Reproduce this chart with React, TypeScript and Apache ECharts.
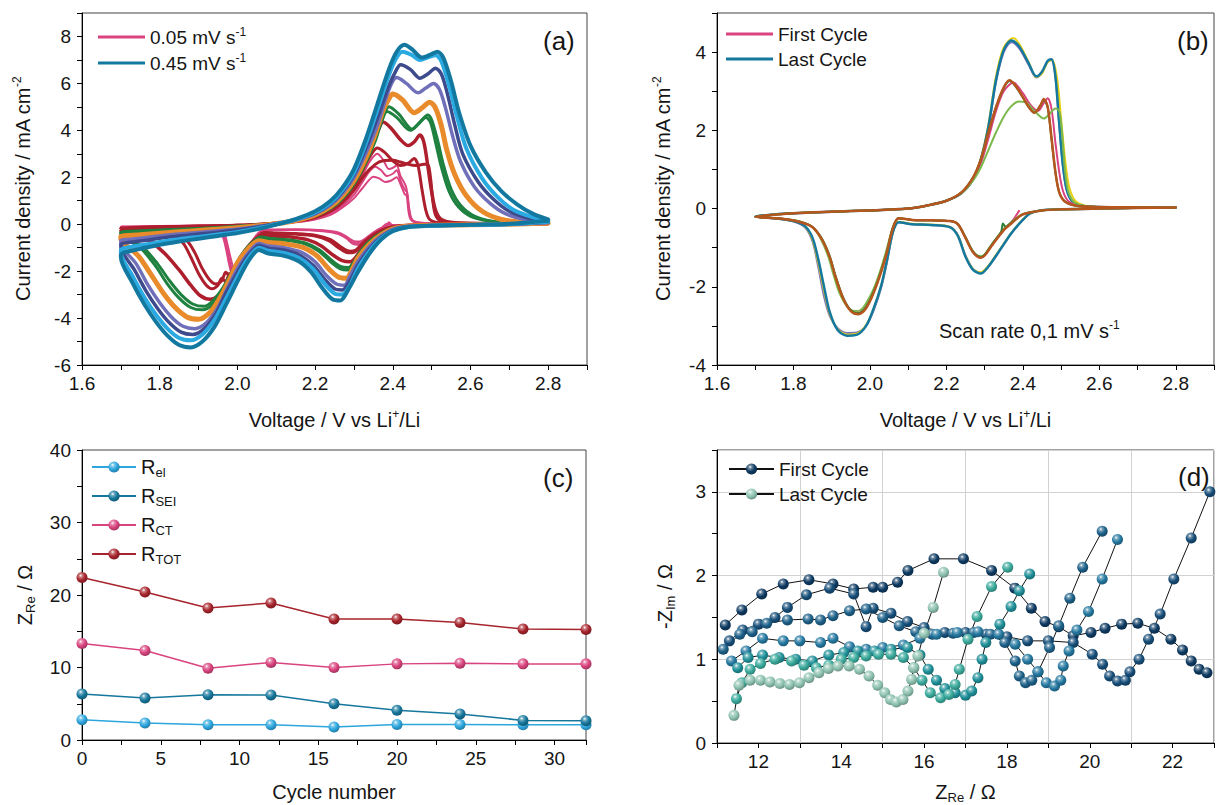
import React, { useEffect, useRef } from "react";
import * as echarts from "echarts";

const FONT = "'Liberation Sans', Arial, Helvetica, sans-serif";
const INK = "#151515";

// ---------- (a) CV at scan rates 0.05 ... 0.45 mV/s : [V vs Li+/Li, mA cm-2]
const cv045 = [
  [2.80,0.15],[2.70,0.02],[2.60,-0.02],[2.50,-0.06],[2.44,-0.12],[2.40,-0.3],[2.37,-0.65],[2.34,-1.25],[2.31,-2.05],[2.285,-2.8],[2.265,-3.25],[2.245,-3.2],[2.22,-2.75],[2.19,-2.05],[2.16,-1.6],[2.12,-1.35],[2.08,-1.25],[2.055,-1.1],[2.04,-1.3],[2.02,-1.8],[2.0,-2.45],[1.97,-3.45],[1.94,-4.4],[1.91,-5.0],[1.88,-5.25],[1.85,-5.15],[1.82,-4.75],[1.79,-4.15],[1.76,-3.4],[1.73,-2.5],[1.70,-1.4],
  [1.70,-1.3],[1.75,-1.05],[1.80,-0.88],[1.85,-0.74],[1.90,-0.62],[1.95,-0.5],[2.00,-0.38],[2.05,-0.22],[2.10,-0.02],[2.15,0.22],[2.20,0.55],[2.24,1.0],[2.27,1.55],[2.30,2.35],[2.33,3.6],[2.36,5.1],[2.39,6.6],[2.41,7.35],[2.43,7.65],[2.45,7.45],[2.475,7.1],[2.50,7.25],[2.515,7.35],[2.53,7.1],[2.55,6.1],[2.57,4.8],[2.60,3.35],[2.64,2.2],[2.68,1.4],[2.72,0.85],[2.76,0.45],[2.80,0.2],
];
const cv040 = [
  [2.80,0.1],[2.70,0.0],[2.60,-0.03],[2.50,-0.07],[2.44,-0.12],[2.40,-0.28],[2.37,-0.6],[2.34,-1.15],[2.31,-1.9],[2.29,-2.6],[2.27,-3.0],[2.25,-2.95],[2.225,-2.55],[2.195,-1.9],[2.16,-1.45],[2.12,-1.23],[2.08,-1.13],[2.055,-1.0],[2.04,-1.2],[2.02,-1.65],[2.0,-2.25],[1.97,-3.2],[1.94,-4.1],[1.91,-4.7],[1.88,-4.95],[1.85,-4.85],[1.82,-4.45],[1.79,-3.85],[1.76,-3.1],[1.73,-2.2],[1.70,-1.2],
  [1.70,-1.1],[1.75,-0.9],[1.80,-0.76],[1.85,-0.64],[1.90,-0.54],[1.95,-0.44],[2.00,-0.33],[2.05,-0.18],[2.10,0.0],[2.15,0.2],[2.20,0.5],[2.24,0.92],[2.27,1.45],[2.30,2.2],[2.33,3.4],[2.36,4.85],[2.39,6.35],[2.41,7.1],[2.425,7.35],[2.45,7.2],[2.47,7.0],[2.49,7.1],[2.51,7.2],[2.525,6.95],[2.545,5.9],[2.565,4.6],[2.59,3.2],[2.63,1.95],[2.67,1.15],[2.71,0.62],[2.76,0.3],[2.80,0.15],
];
const cv035 = [
  [2.80,0.08],[2.70,0.0],[2.60,-0.03],[2.50,-0.07],[2.44,-0.1],[2.40,-0.25],[2.37,-0.55],[2.34,-1.05],[2.31,-1.75],[2.29,-2.4],[2.27,-2.8],[2.25,-2.75],[2.225,-2.35],[2.195,-1.75],[2.16,-1.32],[2.12,-1.1],[2.08,-1.02],[2.055,-0.9],[2.04,-1.1],[2.02,-1.5],[2.0,-2.05],[1.97,-2.95],[1.945,-3.8],[1.915,-4.45],[1.885,-4.7],[1.855,-4.6],[1.825,-4.2],[1.795,-3.6],[1.765,-2.85],[1.735,-1.95],[1.70,-0.95],
  [1.70,-0.85],[1.75,-0.72],[1.80,-0.6],[1.85,-0.5],[1.90,-0.42],[1.95,-0.34],[2.00,-0.25],[2.05,-0.13],[2.10,0.02],[2.15,0.2],[2.20,0.47],[2.24,0.88],[2.27,1.38],[2.30,2.1],[2.33,3.2],[2.36,4.5],[2.39,5.9],[2.41,6.6],[2.42,6.8],[2.445,6.6],[2.47,6.22],[2.49,6.4],[2.51,6.65],[2.525,6.4],[2.54,5.6],[2.56,4.2],[2.58,3.0],[2.62,1.8],[2.66,1.05],[2.70,0.55],[2.75,0.25],[2.80,0.12],
];
const cv030 = [
  [2.80,0.06],[2.70,0.0],[2.60,-0.02],[2.50,-0.06],[2.44,-0.09],[2.40,-0.22],[2.37,-0.5],[2.34,-0.95],[2.31,-1.6],[2.29,-2.2],[2.275,-2.6],[2.255,-2.55],[2.23,-2.2],[2.2,-1.6],[2.165,-1.2],[2.12,-1.0],[2.08,-0.93],[2.055,-0.82],[2.04,-1.0],[2.02,-1.4],[2.0,-1.9],[1.975,-2.7],[1.95,-3.55],[1.92,-4.2],[1.89,-4.45],[1.86,-4.35],[1.83,-3.95],[1.80,-3.35],[1.77,-2.6],[1.74,-1.7],[1.70,-0.8],
  [1.70,-0.7],[1.75,-0.6],[1.80,-0.5],[1.85,-0.42],[1.90,-0.35],[1.95,-0.28],[2.00,-0.2],[2.05,-0.1],[2.10,0.02],[2.15,0.18],[2.20,0.44],[2.24,0.82],[2.27,1.3],[2.30,2.0],[2.33,3.0],[2.36,4.2],[2.385,5.5],[2.40,6.1],[2.41,6.25],[2.435,6.0],[2.465,5.6],[2.485,5.8],[2.505,6.0],[2.52,5.75],[2.535,5.0],[2.555,3.7],[2.575,2.65],[2.61,1.6],[2.65,0.9],[2.69,0.45],[2.74,0.2],[2.80,0.08],
];
const cv025 = [
  [2.80,0.05],[2.70,0.0],[2.60,-0.02],[2.50,-0.05],[2.44,-0.08],[2.40,-0.2],[2.37,-0.45],[2.34,-0.85],[2.31,-1.45],[2.295,-1.95],[2.28,-2.3],[2.26,-2.25],[2.235,-1.9],[2.205,-1.35],[2.17,-1.0],[2.12,-0.83],[2.08,-0.78],[2.055,-0.7],[2.04,-0.85],[2.02,-1.2],[2.0,-1.65],[1.98,-2.35],[1.955,-3.15],[1.93,-3.75],[1.90,-4.05],[1.87,-3.95],[1.84,-3.55],[1.81,-2.95],[1.78,-2.2],[1.745,-1.35],[1.70,-0.6],
  [1.70,-0.52],[1.75,-0.45],[1.80,-0.38],[1.85,-0.32],[1.90,-0.27],[1.95,-0.21],[2.00,-0.15],[2.05,-0.07],[2.10,0.02],[2.15,0.16],[2.20,0.4],[2.24,0.76],[2.27,1.2],[2.30,1.85],[2.33,2.8],[2.355,3.85],[2.375,4.85],[2.39,5.35],[2.40,5.55],[2.425,5.3],[2.455,4.75],[2.475,4.95],[2.495,5.2],[2.51,4.95],[2.525,4.2],[2.54,3.1],[2.56,2.1],[2.59,1.2],[2.63,0.55],[2.68,0.2],[2.74,0.08],[2.80,0.05],
];
const cv020a = [
  [2.80,0.04],[2.70,0.0],[2.60,-0.01],[2.50,-0.04],[2.44,-0.07],[2.40,-0.17],[2.37,-0.4],[2.34,-0.75],[2.315,-1.25],[2.30,-1.7],[2.285,-1.95],[2.265,-1.9],[2.24,-1.6],[2.21,-1.15],[2.175,-0.85],[2.13,-0.7],[2.09,-0.65],[2.06,-0.58],[2.045,-0.72],[2.025,-1.05],[2.005,-1.5],[1.985,-2.15],[1.96,-2.9],[1.935,-3.45],[1.91,-3.65],[1.88,-3.55],[1.85,-3.15],[1.82,-2.55],[1.79,-1.8],[1.75,-1.0],[1.70,-0.42],
  [1.70,-0.36],[1.75,-0.31],[1.80,-0.27],[1.85,-0.23],[1.90,-0.19],[1.95,-0.15],[2.00,-0.1],[2.05,-0.04],[2.10,0.03],[2.15,0.15],[2.20,0.37],[2.24,0.7],[2.27,1.12],[2.30,1.75],[2.33,2.7],[2.355,3.7],[2.375,4.55],[2.39,5.0],[2.415,4.7],[2.45,4.05],[2.47,4.35],[2.49,4.65],[2.50,4.45],[2.515,3.6],[2.53,2.55],[2.55,1.5],[2.575,0.8],[2.61,0.35],[2.66,0.12],[2.72,0.05],[2.80,0.04],
];
const cv020b = [
  [2.80,0.04],[2.70,0.0],[2.60,-0.01],[2.50,-0.04],[2.44,-0.07],[2.40,-0.16],[2.37,-0.38],[2.34,-0.72],[2.315,-1.2],[2.30,-1.6],[2.285,-1.85],[2.265,-1.8],[2.24,-1.5],[2.21,-1.08],[2.175,-0.8],[2.13,-0.66],[2.09,-0.61],[2.06,-0.55],[2.045,-0.68],[2.025,-1.0],[2.005,-1.45],[1.985,-2.05],[1.96,-2.78],[1.935,-3.3],[1.915,-3.5],[1.885,-3.4],[1.855,-3.0],[1.825,-2.4],[1.795,-1.7],[1.755,-0.95],[1.70,-0.4],
  [1.70,-0.34],[1.80,-0.25],[1.90,-0.18],[2.00,-0.09],[2.10,0.03],[2.15,0.14],[2.20,0.35],[2.24,0.67],[2.27,1.08],[2.30,1.7],[2.33,2.6],[2.355,3.55],[2.37,4.3],[2.385,4.8],[2.41,4.55],[2.445,4.0],[2.465,4.25],[2.485,4.55],[2.497,4.35],[2.51,3.5],[2.525,2.45],[2.545,1.4],[2.57,0.72],[2.605,0.3],[2.66,0.1],[2.72,0.05],[2.80,0.04],
];
const cv015 = [
  [2.80,0.03],[2.70,0.0],[2.60,-0.01],[2.50,-0.03],[2.44,-0.06],[2.40,-0.14],[2.37,-0.33],[2.345,-0.62],[2.32,-1.05],[2.305,-1.4],[2.29,-1.6],[2.27,-1.55],[2.245,-1.3],[2.215,-0.92],[2.18,-0.66],[2.135,-0.54],[2.095,-0.5],[2.065,-0.45],[2.05,-0.58],[2.03,-0.9],[2.01,-1.35],[1.99,-1.95],[1.97,-2.6],[1.95,-3.05],[1.93,-3.2],[1.905,-3.05],[1.88,-2.6],[1.85,-1.95],[1.81,-1.2],[1.76,-0.55],[1.70,-0.27],
  [1.70,-0.24],[1.75,-0.2],[1.80,-0.17],[1.85,-0.14],[1.90,-0.12],[1.95,-0.09],[2.00,-0.06],[2.05,-0.02],[2.10,0.04],[2.15,0.14],[2.20,0.34],[2.24,0.65],[2.27,1.05],[2.30,1.7],[2.325,2.55],[2.35,3.55],[2.365,4.1],[2.375,4.35],[2.395,4.1],[2.42,3.6],[2.44,3.35],[2.455,3.5],[2.47,3.8],[2.48,3.5],[2.49,2.5],[2.50,1.4],[2.51,0.6],[2.525,0.2],[2.56,0.06],[2.65,0.03],[2.80,0.03],
];
const cv010a = [
  [2.80,0.02],[2.70,0.0],[2.60,-0.01],[2.50,-0.02],[2.44,-0.05],[2.40,-0.12],[2.37,-0.28],[2.345,-0.55],[2.32,-0.9],[2.30,-1.2],[2.285,-1.22],[2.26,-1.0],[2.235,-0.7],[2.2,-0.5],[2.15,-0.42],[2.10,-0.4],[2.07,-0.37],[2.055,-0.55],[2.04,-1.0],[2.02,-1.6],[2.0,-2.1],[1.99,-2.3],[1.98,-2.1],[1.97,-2.45],[1.96,-2.3],[1.95,-2.6],[1.935,-2.75],[1.92,-2.6],[1.9,-2.1],[1.88,-1.4],[1.86,-0.8],[1.83,-0.45],[1.78,-0.25],[1.70,-0.18],
  [1.70,-0.16],[1.80,-0.12],[1.90,-0.09],[2.00,-0.05],[2.05,-0.02],[2.10,0.04],[2.15,0.13],[2.20,0.3],[2.24,0.58],[2.27,0.95],[2.30,1.55],[2.32,2.2],[2.34,2.85],[2.36,3.25],[2.38,3.05],[2.40,2.7],[2.42,2.5],[2.44,2.6],[2.455,2.8],[2.465,2.5],[2.475,1.5],[2.485,0.6],[2.495,0.2],[2.52,0.06],[2.6,0.02],[2.8,0.02],
];
const cv010b = [
  [2.80,0.02],[2.60,-0.01],[2.50,-0.02],[2.44,-0.05],[2.40,-0.11],[2.37,-0.26],[2.345,-0.5],[2.32,-0.85],[2.305,-1.1],[2.29,-1.15],[2.265,-0.95],[2.24,-0.66],[2.2,-0.47],[2.15,-0.4],[2.10,-0.38],[2.07,-0.35],[2.055,-0.5],[2.04,-0.9],[2.025,-1.5],[2.01,-1.9],[2.0,-2.05],[1.99,-1.9],[1.98,-2.2],[1.97,-2.05],[1.96,-2.4],[1.945,-2.55],[1.93,-2.4],[1.91,-1.9],[1.89,-1.2],[1.87,-0.7],[1.84,-0.4],[1.78,-0.22],[1.70,-0.17],
  [1.70,-0.15],[1.80,-0.11],[1.90,-0.08],[2.00,-0.05],[2.10,0.04],[2.15,0.12],[2.20,0.28],[2.24,0.55],[2.27,0.92],[2.30,1.45],[2.33,2.15],[2.355,2.55],[2.375,2.7],[2.40,2.72],[2.42,2.65],[2.44,2.55],[2.46,2.5],[2.48,2.55],[2.49,2.55],[2.497,2.0],[2.503,1.0],[2.51,0.4],[2.525,0.12],[2.57,0.04],[2.8,0.02],
];
const cv005a = [
  [2.80,0.02],[2.60,0.0],[2.45,-0.02],[2.40,-0.05],[2.39,0.08],[2.385,-0.05],[2.37,-0.2],[2.35,-0.45],[2.33,-0.72],[2.31,-0.88],[2.295,-0.82],[2.28,-0.6],[2.26,-0.42],[2.22,-0.3],[2.15,-0.25],[2.08,-0.27],[2.06,-0.35],[2.045,-0.7],[2.03,-1.2],[2.015,-1.75],[2.0,-2.2],[1.99,-2.25],[1.98,-1.8],[1.97,-1.0],[1.96,-0.45],[1.94,-0.22],[1.9,-0.16],[1.8,-0.13],[1.7,-0.12],
  [1.80,-0.1],[1.90,-0.08],[2.00,-0.05],[2.10,0.03],[2.15,0.1],[2.20,0.25],[2.24,0.5],[2.27,0.85],[2.30,1.4],[2.32,2.0],[2.34,2.65],[2.36,3.0],[2.375,2.75],[2.39,2.35],[2.40,2.4],[2.41,2.5],[2.42,2.05],[2.43,1.75],[2.435,1.55],[2.44,0.9],[2.445,0.35],[2.455,0.12],[2.5,0.04],[2.6,0.02],[2.8,0.02],
];
const cv005b = [
  [2.80,0.02],[2.60,0.0],[2.45,-0.02],[2.40,-0.05],[2.385,0.02],[2.37,-0.18],[2.35,-0.4],[2.33,-0.66],[2.31,-0.8],[2.295,-0.76],[2.28,-0.56],[2.26,-0.38],[2.22,-0.28],[2.15,-0.24],[2.08,-0.25],[2.06,-0.32],[2.045,-0.6],[2.03,-1.05],[2.015,-1.55],[2.0,-1.95],[1.99,-2.05],[1.982,-1.7],[1.972,-0.95],[1.962,-0.4],[1.94,-0.2],[1.9,-0.15],[1.8,-0.12],[1.7,-0.11],
  [1.80,-0.09],[1.90,-0.07],[2.00,-0.04],[2.10,0.03],[2.15,0.09],[2.20,0.22],[2.24,0.45],[2.27,0.78],[2.30,1.25],[2.32,1.75],[2.34,2.25],[2.355,2.45],[2.37,2.3],[2.385,2.05],[2.40,2.15],[2.41,2.3],[2.42,1.85],[2.43,1.5],[2.437,1.35],[2.442,0.7],[2.448,0.25],[2.46,0.08],[2.5,0.03],[2.6,0.02],[2.8,0.02],
];
const cv005c = [
  [2.80,0.02],[2.60,0.0],[2.45,-0.02],[2.40,-0.05],[2.37,-0.16],[2.35,-0.36],[2.33,-0.6],[2.315,-0.74],[2.30,-0.72],[2.28,-0.52],[2.26,-0.35],[2.22,-0.26],[2.15,-0.22],[2.08,-0.23],[2.06,-0.3],[2.045,-0.55],[2.03,-0.95],[2.015,-1.45],[2.002,-1.85],[1.993,-1.95],[1.985,-1.6],[1.975,-0.9],[1.965,-0.38],[1.94,-0.19],[1.9,-0.14],[1.8,-0.12],[1.7,-0.1],
  [1.80,-0.08],[1.90,-0.06],[2.00,-0.04],[2.10,0.03],[2.15,0.08],[2.20,0.2],[2.24,0.4],[2.27,0.7],[2.30,1.1],[2.32,1.5],[2.34,1.9],[2.35,2.02],[2.365,1.95],[2.38,1.8],[2.395,1.85],[2.41,2.0],[2.42,1.7],[2.43,1.3],[2.436,1.2],[2.44,0.6],[2.446,0.2],[2.46,0.06],[2.5,0.03],[2.8,0.02],
];

// ---------- (b) cycling at 0.1 mV/s : [V vs Li+/Li, mA cm-2]
const bFirst = [
  [2.39,-0.06],[2.37,-0.35],[2.35,-0.55],[2.32,-0.93],[2.30,-1.2],[2.29,-1.25],[2.27,-1.12],[2.25,-0.75],[2.23,-0.4],[2.21,-0.32],[2.16,-0.3],[2.11,-0.29],[2.075,-0.25],[2.06,-0.5],[2.045,-1.05],[2.03,-1.55],[2.01,-2.1],[1.99,-2.5],[1.97,-2.66],[1.95,-2.6],[1.93,-2.3],[1.91,-1.75],[1.895,-1.25],[1.875,-0.8],[1.85,-0.48],[1.82,-0.35],[1.77,-0.26],[1.70,-0.21],
  [1.80,-0.12],[1.90,-0.08],[2.00,-0.05],[2.10,0.0],[2.15,0.08],[2.20,0.2],[2.24,0.4],[2.27,0.75],[2.29,1.15],[2.31,1.8],[2.33,2.5],[2.35,3.0],[2.375,3.22],[2.40,2.95],[2.42,2.65],[2.44,2.5],[2.455,2.7],[2.465,2.82],[2.475,2.55],[2.485,1.7],[2.495,0.95],[2.505,0.45],[2.52,0.18],[2.55,0.07],[2.60,0.04],[2.80,0.03],
];
const bBrown = [
  [2.80,0.03],[2.60,0.0],[2.50,-0.02],[2.45,-0.05],[2.40,-0.15],[2.37,-0.38],[2.35,-0.55],[2.32,-0.93],[2.30,-1.2],[2.29,-1.26],[2.27,-1.12],[2.25,-0.75],[2.23,-0.4],[2.21,-0.32],[2.16,-0.3],[2.11,-0.29],[2.075,-0.25],[2.06,-0.5],[2.045,-1.1],[2.03,-1.6],[2.01,-2.15],[1.99,-2.55],[1.97,-2.7],[1.95,-2.62],[1.93,-2.3],[1.91,-1.75],[1.895,-1.25],[1.875,-0.8],[1.85,-0.48],[1.82,-0.35],[1.77,-0.26],[1.70,-0.21],
  [1.80,-0.12],[1.90,-0.08],[2.00,-0.05],[2.10,0.0],[2.15,0.08],[2.20,0.2],[2.24,0.42],[2.27,0.8],[2.29,1.25],[2.31,1.95],[2.33,2.6],[2.35,3.1],[2.365,3.28],[2.38,3.15],[2.40,2.85],[2.415,2.6],[2.43,2.45],[2.445,2.62],[2.455,2.8],[2.465,2.6],[2.475,1.8],[2.485,0.95],[2.495,0.42],[2.51,0.18],[2.54,0.07],[2.60,0.04],[2.80,0.03],
];
const bDarkGreen = [
  [2.80,0.03],[2.60,0.0],[2.50,-0.02],[2.45,-0.05],[2.40,-0.15],[2.37,-0.36],[2.355,-0.47],[2.348,-0.38],[2.343,-0.6],[2.32,-0.9],[2.30,-1.18],[2.29,-1.24],[2.27,-1.1],[2.25,-0.73],[2.23,-0.4],[2.21,-0.32],[2.16,-0.3],[2.11,-0.29],[2.075,-0.25],[2.06,-0.5],[2.045,-1.08],[2.03,-1.58],[2.01,-2.12],[1.99,-2.52],[1.97,-2.68],[1.95,-2.6],[1.93,-2.28],[1.91,-1.72],[1.895,-1.22],[1.875,-0.78],[1.85,-0.47],[1.82,-0.34],[1.77,-0.26],[1.70,-0.21],
  [1.80,-0.12],[1.90,-0.08],[2.00,-0.05],[2.10,0.0],[2.15,0.08],[2.20,0.2],[2.24,0.42],[2.27,0.8],[2.29,1.25],[2.31,1.95],[2.33,2.6],[2.35,3.08],[2.365,3.26],[2.38,3.14],[2.40,2.84],[2.415,2.6],[2.43,2.45],[2.445,2.62],[2.455,2.78],[2.465,2.58],[2.475,1.78],[2.485,0.94],[2.495,0.42],[2.51,0.18],[2.54,0.07],[2.60,0.04],[2.80,0.03],
];
const bLightGreen = [
  [2.80,0.03],[2.60,0.0],[2.50,-0.02],[2.45,-0.05],[2.40,-0.14],[2.37,-0.35],[2.35,-0.52],[2.32,-0.9],[2.30,-1.17],[2.29,-1.22],[2.27,-1.1],[2.25,-0.74],[2.23,-0.4],[2.21,-0.32],[2.16,-0.3],[2.11,-0.29],[2.075,-0.25],[2.06,-0.48],[2.045,-1.0],[2.03,-1.5],[2.01,-2.05],[1.99,-2.42],[1.975,-2.6],[1.96,-2.62],[1.94,-2.5],[1.92,-2.15],[1.905,-1.7],[1.89,-1.2],[1.87,-0.75],[1.85,-0.48],[1.82,-0.34],[1.77,-0.26],[1.70,-0.21],
  [1.80,-0.12],[1.90,-0.08],[2.00,-0.05],[2.10,0.0],[2.15,0.08],[2.20,0.2],[2.24,0.4],[2.27,0.72],[2.29,1.05],[2.31,1.5],[2.33,1.95],[2.35,2.35],[2.37,2.62],[2.39,2.74],[2.41,2.7],[2.43,2.5],[2.455,2.3],[2.47,2.42],[2.485,2.56],[2.495,2.5],[2.502,2.0],[2.51,1.0],[2.52,0.4],[2.54,0.12],[2.60,0.04],[2.80,0.03],
];
const bLavender = [
  [2.80,0.03],[2.60,0.0],[2.50,-0.02],[2.45,-0.04],[2.42,-0.12],[2.40,-0.29],[2.37,-0.63],[2.34,-1.06],[2.31,-1.48],[2.29,-1.64],[2.27,-1.55],[2.25,-1.2],[2.23,-0.68],[2.21,-0.47],[2.16,-0.42],[2.11,-0.4],[2.075,-0.35],[2.06,-0.62],[2.045,-1.35],[2.03,-2.0],[2.01,-2.6],[1.99,-3.0],[1.965,-3.17],[1.94,-3.18],[1.915,-3.05],[1.895,-2.75],[1.88,-2.25],[1.865,-1.5],[1.85,-0.85],[1.83,-0.48],[1.80,-0.33],[1.75,-0.25],[1.70,-0.2],
  [1.75,-0.15],[1.80,-0.12],[1.90,-0.08],[2.00,-0.05],[2.10,0.0],[2.15,0.08],[2.20,0.2],[2.24,0.4],[2.27,0.74],[2.29,1.22],[2.31,2.05],[2.33,3.25],[2.35,4.0],[2.37,4.25],[2.39,4.1],[2.415,3.68],[2.435,3.35],[2.45,3.47],[2.465,3.75],[2.475,3.8],[2.485,3.38],[2.495,2.15],[2.505,1.05],[2.515,0.45],[2.53,0.17],[2.555,0.07],[2.60,0.04],[2.70,0.03],[2.80,0.03],
];
const bYellow = [
  [2.80,0.03],[2.60,0.0],[2.50,-0.02],[2.45,-0.04],[2.42,-0.12],[2.40,-0.28],[2.37,-0.62],[2.34,-1.04],[2.31,-1.46],[2.29,-1.63],[2.27,-1.55],[2.25,-1.21],[2.23,-0.69],[2.21,-0.47],[2.16,-0.41],[2.11,-0.39],[2.075,-0.34],[2.06,-0.6],[2.045,-1.3],[2.03,-1.95],[2.01,-2.55],[1.99,-2.98],[1.965,-3.2],[1.94,-3.22],[1.915,-3.08],[1.895,-2.7],[1.88,-2.1],[1.865,-1.4],[1.85,-0.8],[1.83,-0.46],[1.80,-0.32],[1.75,-0.25],[1.70,-0.2],
  [1.75,-0.15],[1.80,-0.12],[1.90,-0.08],[2.00,-0.05],[2.10,0.0],[2.15,0.08],[2.20,0.2],[2.24,0.41],[2.27,0.76],[2.29,1.27],[2.31,2.15],[2.33,3.4],[2.35,4.12],[2.375,4.36],[2.39,4.22],[2.415,3.75],[2.435,3.36],[2.45,3.45],[2.465,3.75],[2.477,3.8],[2.49,3.3],[2.5,2.3],[2.51,1.3],[2.52,0.6],[2.535,0.22],[2.56,0.08],[2.60,0.04],[2.70,0.03],[2.80,0.03],
];
const bLast = [
  [2.80,0.03],[2.70,0.02],[2.60,0.0],[2.50,-0.02],[2.45,-0.04],[2.42,-0.12],[2.40,-0.29],[2.37,-0.63],[2.34,-1.06],[2.31,-1.48],[2.29,-1.66],[2.27,-1.57],[2.25,-1.23],[2.23,-0.7],[2.21,-0.48],[2.16,-0.42],[2.11,-0.4],[2.075,-0.35],[2.06,-0.6],[2.045,-1.3],[2.03,-1.95],[2.01,-2.55],[1.99,-3.0],[1.965,-3.23],[1.94,-3.25],[1.915,-3.1],[1.895,-2.65],[1.88,-2.0],[1.865,-1.3],[1.85,-0.75],[1.83,-0.45],[1.80,-0.32],[1.75,-0.25],[1.70,-0.2],
  [1.75,-0.15],[1.80,-0.12],[1.90,-0.08],[2.00,-0.05],[2.10,0.0],[2.15,0.08],[2.20,0.2],[2.24,0.4],[2.27,0.75],[2.29,1.25],[2.31,2.1],[2.33,3.3],[2.35,4.05],[2.37,4.3],[2.39,4.15],[2.415,3.72],[2.435,3.38],[2.45,3.5],[2.465,3.78],[2.475,3.82],[2.485,3.4],[2.495,2.2],[2.505,1.1],[2.515,0.48],[2.53,0.18],[2.555,0.07],[2.60,0.04],[2.70,0.03],[2.80,0.03],
];

// ---------- (c) fitted resistances vs cycle number (Ω)
const cycles = [0, 4, 8, 12, 16, 20, 24, 28, 32];
const rEl = [2.8, 2.35, 2.1, 2.1, 1.8, 2.15, 2.15, 2.1, 2.1];
const rSei = [6.35, 5.8, 6.25, 6.2, 5.0, 4.1, 3.6, 2.7, 2.65];
const rCt = [13.3, 12.35, 9.9, 10.7, 10.0, 10.5, 10.6, 10.5, 10.5];
const rTot = [22.4, 20.4, 18.2, 18.9, 16.7, 16.7, 16.2, 15.3, 15.25];

// ---------- (d) Nyquist spectra, first to last cycle: [Z_Re, -Z_Im] in Ω
const eis1 = [
  [11.2,1.41],[11.6,1.59],[12.08,1.78],[12.6,1.9],[13.22,1.95],[13.8,1.9],[14.3,1.84],[14.77,1.86],[15.0,1.86],[15.36,1.92],[15.61,2.06],[16.24,2.2],[16.95,2.2],[17.63,2.06],[18.19,1.85],[18.59,1.61],[18.92,1.45],[19.25,1.39],[19.6,1.28],[20.03,1.32],[20.37,1.37],[20.77,1.42],[21.16,1.43],[21.56,1.37],[21.96,1.24],[22.24,1.11],[22.45,0.98],[22.64,0.88],[22.83,0.84],
];
const eis2 = [
  [11.3,1.22],[11.62,1.35],[12.0,1.42],[12.4,1.5],[12.7,1.62],[13.16,1.77],[13.72,1.85],[14.3,1.78],[14.6,1.39],[14.77,1.61],[15.2,1.55],[15.6,1.45],[16.0,1.38],[16.5,1.32],[17.0,1.32],[17.5,1.3],[18.0,1.27],[18.5,1.22],[19.0,1.22],[19.6,1.2],[20.06,1.06],[20.31,0.94],[20.48,0.8],[20.67,0.74],[20.86,0.75],[20.97,0.85],[21.19,1.0],[21.42,1.24],[21.7,1.54],[22.03,1.96],[22.45,2.45],[22.9,3.0],
];
const eis3 = [
  [11.15,1.12],[11.55,1.3],[11.85,1.33],[12.2,1.43],[12.7,1.47],[13.2,1.48],[13.5,1.47],[13.8,1.52],[14.2,1.58],[14.6,1.6],[15.0,1.5],[15.4,1.4],[15.8,1.33],[16.2,1.3],[16.7,1.31],[17.2,1.32],[17.6,1.3],[17.95,1.2],[18.2,0.98],[18.3,0.8],[18.45,0.72],[18.6,0.75],[18.75,0.85],[19.03,1.14],[19.25,1.4],[19.52,1.73],[19.83,2.1],[20.3,2.53],
];
const eis4 = [
  [11.35,0.98],[11.7,1.1],[12.1,1.25],[12.6,1.22],[13.0,1.22],[13.5,1.2],[13.8,1.25],[14.2,1.15],[14.6,1.12],[15.0,1.14],[15.5,1.17],[15.9,1.25],[16.3,1.3],[16.8,1.32],[17.3,1.33],[17.8,1.3],[18.2,1.18],[18.5,1.0],[18.75,0.85],[18.95,0.72],[19.15,0.68],[19.3,0.75],[19.36,0.92],[19.5,1.1],[19.69,1.35],[19.97,1.57],[20.3,1.96],[20.67,2.43],
];
const eis5 = [
  [11.5,0.9],[11.75,1.02],[12.1,1.05],[12.5,1.02],[12.9,1.0],[13.3,0.98],[13.7,1.05],[14.06,1.08],[14.4,1.1],[14.8,1.1],[15.2,1.12],[15.6,1.14],[15.9,1.05],[16.1,0.88],[16.3,0.75],[16.5,0.65],[16.75,0.6],[17.0,0.57],[17.15,0.62],[17.3,0.78],[17.4,1.0],[17.49,1.2],[17.83,1.42],[18.1,1.63],[18.3,1.82],[18.55,2.02],
];
const eis6 = [
  [11.47,0.53],[11.6,0.72],[11.8,0.88],[12.05,0.95],[12.4,1.0],[12.8,0.98],[13.1,0.93],[13.4,0.9],[13.7,0.93],[14.0,1.0],[14.3,1.02],[14.6,1.04],[14.9,1.06],[15.2,1.06],[15.5,1.02],[15.75,0.9],[15.95,0.75],[16.15,0.6],[16.4,0.54],[16.6,0.58],[16.75,0.7],[16.85,0.88],[17.06,1.24],[17.28,1.51],[17.63,1.87],[18.02,2.1],
];
const eis7 = [
  [11.41,0.33],[11.53,0.69],[11.8,0.75],[12.05,0.75],[12.28,0.73],[12.52,0.71],[12.75,0.7],[12.99,0.72],[13.22,0.78],[13.46,0.84],[13.69,0.89],[13.92,0.92],[14.19,0.92],[14.44,0.88],[14.67,0.8],[14.88,0.69],[15.05,0.6],[15.19,0.52],[15.33,0.49],[15.49,0.52],[15.61,0.62],[15.7,0.76],[15.75,0.9],[15.85,1.04],[16.0,1.31],[16.22,1.62],[16.47,2.04],
];

// odd Z_Re positions carrying vertical grid lines in (d)
const nyquistGridX = [13, 15, 17, 19, 21];

const LEGEND_TEXT: Record<string, string> = {
  "0.05 mV s-1": "0.05 mV s{sup|-1}",
  "0.45 mV s-1": "0.45 mV s{sup|-1}",
  "First Cycle": "First Cycle",
  "Last Cycle": "Last Cycle",
  "R el": "R{sub|el}",
  "R SEI": "R{sub|SEI}",
  "R CT": "R{sub|CT}",
  "R TOT": "R{sub|TOT}",
  "EIS First Cycle": "First Cycle",
  "EIS Last Cycle": "Last Cycle",
};

function mix(hex: string, target: string, t: number) {
  const p = (h: string) => [1, 3, 5].map((i) => parseInt(h.slice(i, i + 2), 16));
  const a = p(hex), b = p(target);
  const c = a.map((v, i) => Math.round(v + (b[i] - v) * t));
  return "#" + c.map((v) => v.toString(16).padStart(2, "0")).join("");
}

function sphere(hex: string) {
  return new echarts.graphic.RadialGradient(0.38, 0.32, 0.75, [
    { offset: 0, color: "#ffffff" },
    { offset: 0.2, color: mix(hex, "#ffffff", 0.4) },
    { offset: 0.55, color: hex },
    { offset: 1, color: mix(hex, "#000000", 0.3) },
  ]);
}

const RICH = {
  sup: { fontSize: 12, fontFamily: FONT, color: INK, verticalAlign: "top", lineHeight: 8 },
  sub: { fontSize: 13, fontFamily: FONT, color: INK, verticalAlign: "bottom", lineHeight: 8 },
};

const labelStyle = (formatter: (v: number) => string, margin: number) => ({
  show: true,
  color: INK,
  fontSize: 19,
  fontFamily: FONT,
  margin,
  formatter,
});

const axisBase = {
  type: "value",
  axisLine: { show: true, onZero: false, lineStyle: { color: "#000", width: 1 } },
  axisTick: { show: true, inside: false, length: 5, lineStyle: { color: "#000", width: 1 } },
  splitLine: { show: false },
  nameLocation: "middle",
  nameTextStyle: { fontSize: 20, fontFamily: FONT, color: INK, lineHeight: 24, rich: RICH },
};

const evenTenth = (v: number) => {
  const k = Math.round(v * 10);
  return k % 2 === 0 ? (k / 10).toFixed(1) : "";
};
const evenInt = (v: number) => (Math.round(v) % 2 === 0 && Math.abs(v - Math.round(v)) < 1e-6 ? String(Math.round(v)) : "");
const everyN = (n: number) => (v: number) => (Math.abs(v / n - Math.round(v / n)) < 1e-6 ? String(Math.round(v)) : "");

function cvLine(name: string, data: number[][], color: string, width: number, axis: number) {
  return {
    type: "line",
    name,
    data,
    xAxisIndex: axis,
    yAxisIndex: axis,
    symbol: "none",
    showSymbol: false,
    smooth: 0.3,
    silent: true,
    itemStyle: { color },
    lineStyle: { color, width, join: "round", cap: "round" },
  };
}

function dotLine(name: string, data: number[][], color: string, lineColor: string, lineWidth: number, axis: number) {
  return {
    type: "line",
    name,
    data,
    xAxisIndex: axis,
    yAxisIndex: axis,
    symbol: "circle",
    symbolSize: 11,
    showSymbol: true,
    silent: true,
    itemStyle: { color: sphere(color) },
    lineStyle: { color: lineColor, width: lineWidth },
  };
}

function buildOption() {
  const A = {
    teal: "#13789F", lblue: "#2BAAE2", navy: "#3D4A8C", lav: "#7070BA",
    orange: "#E98A2B", green: "#1F813F", red: "#AE1F2D", pink: "#D9437F",
  };
  const B = {
    pink: "#D9437F", brown: "#B4561E", lgreen: "#7CB84B", dgreen: "#2F7E35",
    lav: "#7C72BA", yellow: "#E7D114", teal: "#14789F",
  };
  const D = ["#0E3A62", "#164D78", "#1C6089", "#2478A0", "#1E8F98", "#3AAA9C", "#8FC3B1"];
  const C = { el: "#2DA6DE", sei: "#16779C", ct: "#D9437E", tot: "#A6242C" };

  const legendBase = {
    orient: "vertical",
    padding: 0,
    selectedMode: false,
    formatter: (n: string) => LEGEND_TEXT[n] ?? n,
    textStyle: { fontSize: 19, fontFamily: FONT, color: INK, lineHeight: 22, rich: RICH },
  };

  return {
    animation: false,
    backgroundColor: "#ffffff",
    grid: [
      { left: 82, top: 13, width: 505, height: 352, show: true, borderColor: "#444", borderWidth: 1 },
      { left: 717, top: 13, width: 506, height: 352, show: true, borderColor: "#444", borderWidth: 1 },
      { left: 82, top: 450, width: 504, height: 293, show: true, borderColor: "#444", borderWidth: 1 },
      { left: 717, top: 450, width: 504, height: 293, show: true, borderColor: "#444", borderWidth: 1 },
    ],
    xAxis: [
      { ...axisBase, gridIndex: 0, min: 1.6, max: 2.9, interval: 0.1, axisLabel: labelStyle(evenTenth, 9),
        name: "Voltage / V vs Li{sup|+}/Li", nameGap: 43 },
      { ...axisBase, gridIndex: 1, min: 1.6, max: 2.9, interval: 0.1, axisLabel: labelStyle(evenTenth, 9),
        name: "Voltage / V vs Li{sup|+}/Li", nameGap: 43 },
      { ...axisBase, gridIndex: 2, min: 0, max: 32, interval: 2.5, axisLabel: labelStyle(everyN(5), 9),
        name: "Cycle number", nameGap: 40 },
      { ...axisBase, gridIndex: 3, min: 11, max: 23, interval: 1, axisLabel: labelStyle(evenInt, 9),
        name: "Z{sub|Re} / Ω", nameGap: 37 },
      // grid lines of (d) on odd Z_Re values, offset scale 0..12 == 11..23
      { type: "value", gridIndex: 3, min: 0, max: 12, interval: 2, position: "top",
        axisLine: { show: false }, axisTick: { show: false }, axisLabel: { show: false },
        splitLine: { show: true, lineStyle: { color: "#d2d2d2", width: 1 } } },
    ],
    yAxis: [
      { ...axisBase, gridIndex: 0, min: -6, max: 9, interval: 1, axisLabel: labelStyle(evenInt, 11),
        name: "Current density / mA cm{sup|-2}", nameGap: 47 },
      { ...axisBase, gridIndex: 1, min: -4, max: 5, interval: 1, axisLabel: labelStyle(evenInt, 11),
        name: "Current density / mA cm{sup|-2}", nameGap: 42 },
      { ...axisBase, gridIndex: 2, min: 0, max: 40, interval: 5, axisLabel: labelStyle(everyN(10), 11),
        name: "Z{sub|Re} / Ω", nameGap: 45 },
      { ...axisBase, gridIndex: 3, min: 0, max: 3.5, interval: 0.5, axisLabel: labelStyle(everyN(1), 11),
        name: "-Z{sub|Im} / Ω", nameGap: 40 },
      { type: "value", gridIndex: 3, min: 0, max: 3.5, interval: 1, position: "right",
        axisLine: { show: false }, axisTick: { show: false }, axisLabel: { show: false },
        splitLine: { show: true, lineStyle: { color: "#d2d2d2", width: 1 } } },
    ],
    legend: [
      { ...legendBase, left: 98, top: 26, itemWidth: 47, itemHeight: 3, itemGap: 4, icon: "rect",
        data: ["0.05 mV s-1", "0.45 mV s-1"] },
      { ...legendBase, left: 726, top: 23, itemWidth: 47, itemHeight: 3, itemGap: 3, icon: "rect",
        data: ["First Cycle", "Last Cycle"] },
      { ...legendBase, left: 91, top: 455, itemWidth: 44, itemHeight: 14, itemGap: 5,
        textStyle: { ...legendBase.textStyle, fontSize: 20, lineHeight: 24 },
        data: ["R el", "R SEI", "R CT", "R TOT"] },
      { ...legendBase, left: 728, top: 458, itemWidth: 45, itemHeight: 14, itemGap: 3,
        data: ["EIS First Cycle", "EIS Last Cycle"] },
    ],
    graphic: {
      elements: [
        { type: "text", x: 543, y: 41, silent: true,
          style: { text: "(a)", fontSize: 26, fontFamily: FONT, fill: INK, align: "left", verticalAlign: "middle" } },
        { type: "text", x: 1177, y: 41, silent: true,
          style: { text: "(b)", fontSize: 26, fontFamily: FONT, fill: INK, align: "left", verticalAlign: "middle" } },
        { type: "text", x: 543, y: 478, silent: true,
          style: { text: "(c)", fontSize: 26, fontFamily: FONT, fill: INK, align: "left", verticalAlign: "middle" } },
        { type: "text", x: 1178, y: 477, silent: true,
          style: { text: "(d)", fontSize: 26, fontFamily: FONT, fill: INK, align: "left", verticalAlign: "middle" } },
        { type: "text", x: 939, y: 331, silent: true,
          style: { text: "Scan rate 0,1 mV s{sup|-1}", fontSize: 20, fontFamily: FONT, fill: INK, lineHeight: 24,
            align: "left", verticalAlign: "middle", rich: RICH } },
      ],
    },
    series: [
      // (a)
      cvLine("a 0.05 c", cv005c, A.pink, 2, 0),
      cvLine("a 0.05 b", cv005b, A.pink, 2, 0),
      cvLine("0.05 mV s-1", cv005a, A.pink, 2, 0),
      cvLine("a 0.10 b", cv010b, A.red, 3, 0),
      cvLine("a 0.10 a", cv010a, A.red, 3, 0),
      cvLine("a 0.15", cv015, A.red, 3.5, 0),
      cvLine("a 0.20 b", cv020b, A.green, 3, 0),
      cvLine("a 0.20 a", cv020a, A.green, 3, 0),
      cvLine("a 0.25", cv025, A.orange, 5, 0),
      cvLine("a 0.30", cv030, A.lav, 3.5, 0),
      cvLine("a 0.35", cv035, A.navy, 3.5, 0),
      cvLine("a 0.40", cv040, A.lblue, 4, 0),
      cvLine("0.45 mV s-1", cv045, A.teal, 4, 0),
      // (b)
      cvLine("b lavender", bLavender, B.lav, 2, 1),
      cvLine("b yellow", bYellow, B.yellow, 2, 1),
      cvLine("Last Cycle", bLast, B.teal, 2.5, 1),
      cvLine("First Cycle", bFirst, B.pink, 2, 1),
      cvLine("b light green", bLightGreen, B.lgreen, 2, 1),
      cvLine("b dark green", bDarkGreen, B.dgreen, 2, 1),
      cvLine("b brown", bBrown, B.brown, 2.5, 1),
      // (c)
      dotLine("R el", cycles.map((c, i) => [c, rEl[i]]), C.el, C.el, 1.5, 2),
      dotLine("R SEI", cycles.map((c, i) => [c, rSei[i]]), C.sei, C.sei, 1.5, 2),
      dotLine("R CT", cycles.map((c, i) => [c, rCt[i]]), C.ct, C.ct, 1.5, 2),
      dotLine("R TOT", cycles.map((c, i) => [c, rTot[i]]), C.tot, C.tot, 1.5, 2),
      // (d)
      dotLine("EIS First Cycle", eis1, D[0], "#111", 1, 3),
      dotLine("EIS cycle 2", eis2, D[1], "#111", 1, 3),
      dotLine("EIS cycle 3", eis3, D[2], "#111", 1, 3),
      dotLine("EIS cycle 4", eis4, D[3], "#111", 1, 3),
      dotLine("EIS cycle 5", eis5, D[4], "#111", 1, 3),
      dotLine("EIS cycle 6", eis6, D[5], "#111", 1, 3),
      dotLine("EIS Last Cycle", eis7, D[6], "#111", 1, 3),
    ],
  };
}

export default function App() {
  const ref = useRef<HTMLDivElement>(null);
  useEffect(() => {
    if (!ref.current) return;
    const chart = echarts.init(ref.current, null, { renderer: "svg" });
    chart.setOption(buildOption() as any);
    return () => chart.dispose();
  }, []);
  return (
    <div
      ref={ref}
      style={{ position: "fixed", left: 0, top: 0, width: 1217, height: 805, background: "#fff" }}
    />
  );
}
